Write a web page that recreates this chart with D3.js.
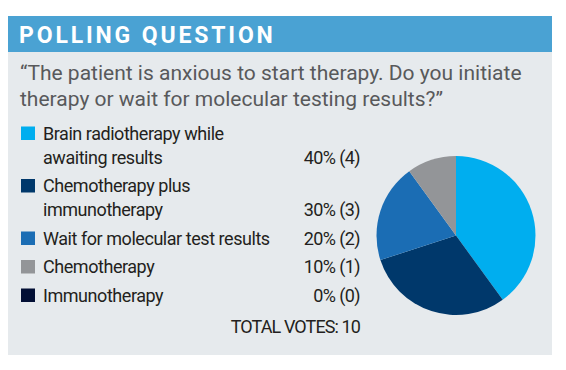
<!DOCTYPE html>
<html>
<head>
<meta charset="utf-8">
<script src="https://cdn.jsdelivr.net/npm/d3@7"></script>
<style>
  body { margin: 0; background: #fff; }
  text { font-family: Roboto, "Liberation Sans", sans-serif; }
</style>
</head>
<body>
<div id="canvas"></div>
<script>
// --- data
var title = "POLLING QUESTION";
var question = ["\u201CThe patient is anxious to start therapy. Do you initiate",
                "therapy or wait for molecular testing results?\u201D"];
var answers = [["Brain radiotherapy while", "awaiting results"],
               ["Chemotherapy plus", "immunotherapy"],
               ["Wait for molecular test results"],
               ["Chemotherapy"],
               ["Immunotherapy"]];
var votes = [4, 3, 2, 1, 0];
var colors = ["#00aeef", "#00386b", "#1b6db4", "#939598", "#020f35"];
var totalVotes = d3.sum(votes);

// --- sizes
var W = 566, H = 370;
var P = {left: 8, right: 552, top: 16, head: 52, bottom: 355};

var svg = d3.select('#canvas')
  .append('svg')
  .attr('width', W)
  .attr('height', H);

// panel + header
svg.append('rect')
  .attr('x', P.left).attr('y', P.top)
  .attr('width', P.right - P.left).attr('height', P.bottom - P.top)
  .attr('fill', '#e6eaed');

svg.append('rect')
  .attr('x', P.left).attr('y', P.top)
  .attr('width', P.right - P.left).attr('height', P.head - P.top)
  .attr('fill', '#4aa2d3');

svg.append('text')
  .attr('x', 19).attr('y', 43)
  .attr('fill', '#fff')
  .attr('font-size', 23)
  .attr('font-weight', 700)
  .attr('letter-spacing', 2.85)
  .text(title);

// question
svg.selectAll('.q')
  .data(question)
  .enter().append('text')
  .attr('class', 'q')
  .attr('x', 20)
  .attr('y', function(d, i){ return 80 + i * 26; })
  .attr('fill', '#58595b')
  .attr('font-size', 21)
  .text(function(d){ return d; });

// --- legend rows
var lineH = 24, gap = 28.5, y0 = 139.5;
var rows = [];
var y = y0;
answers.forEach(function(a, i){
  rows.push({lines: a, votes: votes[i], color: colors[i], y: y});
  y += (a.length - 1) * lineH + gap;
});

var row = svg.selectAll('.row')
  .data(rows)
  .enter().append('g')
  .attr('class', 'row')
  .attr('transform', function(d){ return 'translate(0,' + d.y + ')'; });

row.append('rect')
  .attr('x', 21).attr('y', -13)
  .attr('width', 14).attr('height', 13.5)
  .attr('fill', function(d){ return d.color; });

row.each(function(d){
  var g = d3.select(this);
  d.lines.forEach(function(l, j){
    g.append('text')
      .attr('x', 43).attr('y', j * lineH)
      .attr('fill', '#231f20')
      .attr('font-size', 18)
      .attr('letter-spacing', -0.45)
      .text(l);
  });
  g.append('text')
    .attr('x', 360).attr('y', (d.lines.length - 1) * lineH)
    .attr('text-anchor', 'end')
    .attr('fill', '#231f20')
    .attr('font-size', 18)
    .attr('letter-spacing', -0.6)
    .text(Math.round(d.votes / totalVotes * 100) + '% (' + d.votes + ')');
});

svg.append('text')
  .attr('x', 360).attr('y', 333)
  .attr('text-anchor', 'end')
  .attr('fill', '#231f20')
  .attr('font-size', 18)
  .attr('letter-spacing', -0.9)
  .text('TOTAL VOTES: ' + totalVotes);

// --- pie
var pie = d3.pie().sort(null).value(function(d){ return d.votes; });
var arc = d3.arc().innerRadius(0).outerRadius(79.5);

svg.append('g')
  .attr('transform', 'translate(456,235.5)')
  .selectAll('path')
  .data(pie(rows))
  .enter().append('path')
  .attr('d', arc)
  .attr('fill', function(d){ return d.data.color; });
</script>
</body>
</html>
